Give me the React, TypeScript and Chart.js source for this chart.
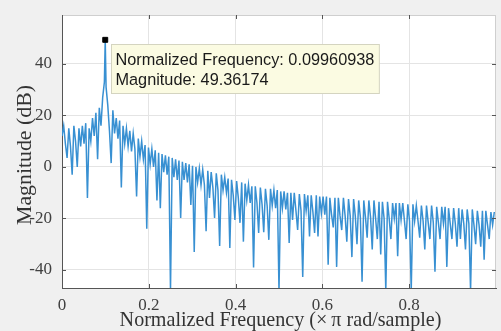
import React, { useEffect, useRef } from 'react';
import { Chart, registerables } from 'chart.js';

Chart.register(...registerables);

// Sample grid step (normalized frequency, x pi rad/sample)
const FREQ_STEP = 1 / 256;

// Magnitude in dB, one value per grid step
const magnitudeDb = [
  12, 16, 9, 3.5, 15, 8, -3, 16, 10, 0, 15, 8, 16, 9, 17, -12,
  15, 10, 19, 12, 21, 3, 23, 16, 27, 33, 31, 24, 14, 1.5, 22, 13,
  19, 11, 18, -8, 16, 9, 15, 8, 14, 6, 13, 7, -11.5, 11, 4, 10,
  3, 8.5, -24, 7.5, 1, 7, 0, 6.5, -13, 5.5, -16, 5, -2, 4.5, -3, 4,
  -48, 3.5, -4, 3, -5, 2.5, -19.8, 2, -5, 1.5, -6, 1, -14.8, 0.5, -33, 0,
  -6, -0.5, -7, -1, -7, -25, -1.5, -12, -2, -8, -19.8, -2.5, -9, -30.7, -3, -9,
  -4, -10, -4.5, -31.5, -5, -11, -20.6, -5.5, -12, -21.7, -6, -29, -6.5, -13, -7, -14,
  -7.5, -39, -7.5, -14, -25.6, -8, -14.5, -25.3, -8.5, -15, -28.3, -8.5, -15, -9, -16, -9,
  -48, -9.5, -16, -9.5, -16.5, -10, -29.5, -10, -20.6, -10, -17, -24.5, -10.5, -17, -42.7, -10.5,
  -17, -11, -27, -11, -17.5, -25.6, -11, -27, -11.5, -18, -11.5, -18.5, -11.5, -38, -12, -18.5,
  -23.5, -12, -38.8, -12, -19, -24.5, -12, -19, -29, -12.5, -19, -35, -12.5, -19, -30, -13,
  -19.5, -44.6, -13, -19.5, -27.5, -13, -19.5, -32, -13, -20, -28, -13.5, -34, -13.5, -20, -48,
  -13.5, -20, -28, -14, -20, -14, -34.7, -14, -20.5, -14, -21, -28, -14.5, -21, -48, -14.5,
  -21, -15, -21, -27.5, -15, -21, -32, -15, -21.5, -28, -15, -21.5, -40.7, -15.5, -21.5, -28,
  -15.5, -22, -15.5, -38.8, -16, -22, -28, -16, -22, -31, -16, -28, -16.5, -22, -32, -16.5,
  -22, -48, -16.5, -22.5, -30, -17, -22.5, -31, -17, -36, -17, -22.5, -28, -17.5, -22.5, -17.5,
];

const peakFreq = 0.09960938;
const peakMag = 49.36174;

const xTicks = [0, 0.2, 0.4, 0.6, 0.8];
const yTicks = [-40, -20, 0, 20, 40];
const xRange = [0, 1];
const yRange = [-47, 59];

const tipLines = ['Normalized Frequency: 0.09960938', 'Magnitude: 49.36174'];
const xTitle = 'Normalized Frequency (\u00D7\u2009\u03C0 rad/sample)';
const yTitle = 'Magnitude (dB)';

const SERIF = '"Liberation Serif", "DejaVu Serif", serif';
const SANS = '"Liberation Sans", Arial, sans-serif';

function fitFont(ctx: CanvasRenderingContext2D, text: string, family: string, target: number) {
  ctx.font = `20px ${family}`;
  const w = ctx.measureText(text).width;
  ctx.font = `${(20 * target) / w}px ${family}`;
}

export default function App() {
  const canvasRef = useRef<HTMLCanvasElement | null>(null);

  useEffect(() => {
    const canvas = canvasRef.current;
    if (!canvas) return;

    const lineData: { x: number; y: number }[] = magnitudeDb.map((y, i) => ({ x: i * FREQ_STEP, y }));
    const insertAt = lineData.findIndex((p) => p.x > peakFreq);
    lineData.splice(insertAt, 0, { x: peakFreq, y: peakMag });

    const overlay = {
      id: 'overlay',
      beforeDraw(chart: any) {
        const { ctx, chartArea: a } = chart;
        ctx.save();
        ctx.fillStyle = '#f0f0f0';
        ctx.fillRect(0, 0, chart.width, chart.height);
        ctx.fillStyle = '#ffffff';
        ctx.fillRect(a.left, a.top, a.right - a.left, a.bottom - a.top);
        ctx.restore();
      },
      afterDraw(chart: any) {
        const { ctx, chartArea: a, scales } = chart;
        const xs = scales.x;
        const ys = scales.y;
        ctx.save();
        // top / right box lines
        ctx.strokeStyle = '#cfcfcf';
        ctx.lineWidth = 1;
        ctx.beginPath();
        ctx.moveTo(a.left, a.top + 0.5);
        ctx.lineTo(a.right, a.top + 0.5);
        ctx.moveTo(a.right - 0.5, a.top);
        ctx.lineTo(a.right - 0.5, a.bottom);
        ctx.stroke();
        // inward ticks
        ctx.strokeStyle = '#555555';
        ctx.beginPath();
        for (const v of xTicks) {
          const px = Math.round(xs.getPixelForValue(v)) + 0.5;
          ctx.moveTo(px, a.bottom);
          ctx.lineTo(px, a.bottom - 4);
          ctx.moveTo(px, a.top);
          ctx.lineTo(px, a.top + 4);
        }
        for (const v of yTicks) {
          const py = Math.round(ys.getPixelForValue(v)) + 0.5;
          ctx.moveTo(a.left, py);
          ctx.lineTo(a.left + 4, py);
          ctx.moveTo(a.right, py);
          ctx.lineTo(a.right - 4, py);
        }
        ctx.stroke();

        // axis titles
        ctx.fillStyle = '#333333';
        ctx.textAlign = 'center';
        ctx.textBaseline = 'alphabetic';
        fitFont(ctx, xTitle, SERIF, 322);
        ctx.fillText(xTitle, 280.5, 326);
        fitFont(ctx, yTitle, SERIF, 140);
        ctx.save();
        ctx.translate(31, 155);
        ctx.rotate(-Math.PI / 2);
        ctx.fillText(yTitle, 0, 0);
        ctx.restore();

        // data tip
        const mx = xs.getPixelForValue(peakFreq);
        const my = ys.getPixelForValue(peakMag);
        ctx.font = `16.3px ${SANS}`;
        const w = Math.max(...tipLines.map((t) => ctx.measureText(t).width)) + 9;
        const h = 49;
        const bx = Math.round(mx + 6) + 0.5;
        const by = Math.round(my + 4) + 0.5;
        ctx.fillStyle = '#fbfbe2';
        ctx.strokeStyle = '#d4d4c0';
        ctx.fillRect(bx, by, w, h);
        ctx.strokeRect(bx, by, w, h);
        ctx.fillStyle = '#1a1a1a';
        ctx.textAlign = 'left';
        ctx.textBaseline = 'middle';
        ctx.fillText(tipLines[0], bx + 4, by + 16);
        ctx.fillText(tipLines[1], bx + 4, by + 36);
        ctx.restore();
      },
    };

    const chart = new Chart(canvas, {
      type: 'line',
      data: {
        datasets: [
          {
            data: lineData,
            borderColor: 'rgb(56, 144, 210)',
            borderWidth: 1.5,
            pointRadius: 0,
            fill: false,
            tension: 0,
            order: 2,
          },
          {
            type: 'scatter',
            data: [{ x: peakFreq, y: peakMag }],
            pointStyle: 'rect',
            pointRadius: 3.5,
            backgroundColor: '#000000',
            borderColor: '#000000',
            borderWidth: 1,
            order: 1,
          } as any,
        ],
      },
      options: {
        animation: false,
        responsive: true,
        maintainAspectRatio: false,
        parsing: false,
        layout: { padding: { top: 15, right: 2, left: 0, bottom: 0 } },
        plugins: { legend: { display: false }, tooltip: { enabled: false }, title: { display: false } },
        scales: {
          x: {
            type: 'linear',
            min: xRange[0],
            max: xRange[1],
            afterBuildTicks: (s: any) => {
              s.ticks = xTicks.map((v) => ({ value: v }));
            },
            afterFit: (s: any) => {
              s.height = 43;
              s.paddingLeft = 0;
              s.paddingRight = 0;
            },
            ticks: {
              color: '#404040',
              font: { family: SERIF, size: 17 },
              padding: 7,
              maxRotation: 0,
              autoSkip: false,
              callback: (v: any) => String(v),
            },
            grid: { color: '#e4e4e4', drawTicks: false },
            border: { display: true, color: '#555555', width: 1 },
          },
          y: {
            type: 'linear',
            min: yRange[0],
            max: yRange[1],
            afterBuildTicks: (s: any) => {
              s.ticks = yTicks.map((v) => ({ value: v }));
            },
            afterFit: (s: any) => {
              s.width = 62;
              s.paddingTop = 0;
              s.paddingBottom = 0;
            },
            ticks: {
              color: '#404040',
              font: { family: SERIF, size: 17 },
              padding: 10,
              autoSkip: false,
              callback: (v: any) => String(v),
            },
            grid: { color: '#e4e4e4', drawTicks: false },
            border: { display: true, color: '#555555', width: 1 },
          },
        },
      } as any,
      plugins: [overlay],
    });

    return () => chart.destroy();
  }, []);

  return (
    <div style={{ position: 'fixed', left: 0, top: 0, width: 501, height: 331, background: '#f0f0f0' }}>
      <canvas ref={canvasRef} />
    </div>
  );
}
